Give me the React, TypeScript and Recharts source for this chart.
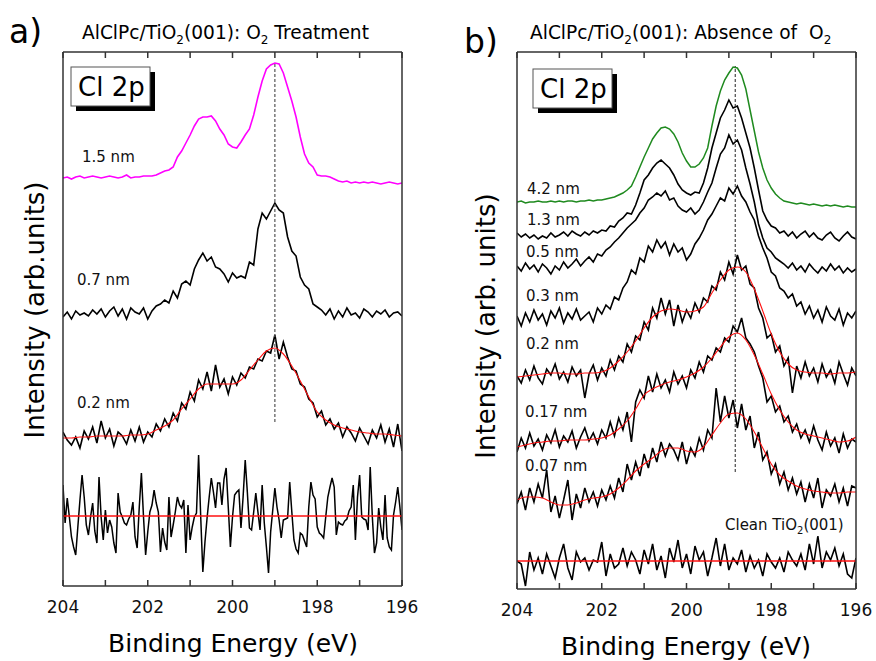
import React from "react"
import { LineChart, Line, XAxis, YAxis } from "recharts"

// binding energy grid of the measured spectra (eV)
const energy = [
  204.0, 203.9, 203.8, 203.7, 203.6, 203.5, 203.4, 203.3, 203.2, 203.1,
  203.0, 202.9, 202.8, 202.7, 202.6, 202.5, 202.4, 202.3, 202.2, 202.1,
  202.0, 201.9, 201.8, 201.7, 201.6, 201.5, 201.4, 201.3, 201.2, 201.1,
  201.0, 200.9, 200.8, 200.7, 200.6, 200.5, 200.4, 200.3, 200.2, 200.1,
  200.0, 199.9, 199.8, 199.7, 199.6, 199.5, 199.4, 199.3, 199.2, 199.1,
  199.0, 198.9, 198.8, 198.7, 198.6, 198.5, 198.4, 198.3, 198.2, 198.1,
  198.0, 197.9, 197.8, 197.7, 197.6, 197.5, 197.4, 197.3, 197.2, 197.1,
  197.0, 196.9, 196.8, 196.7, 196.6, 196.5, 196.4, 196.3, 196.2, 196.1,
  196.0,
]
// finer grid of the clean substrate scan in panel a (eV)
const energyFine = [
  204.0, 203.95, 203.9, 203.85, 203.8, 203.75, 203.7, 203.65, 203.6, 203.55,
  203.5, 203.45, 203.4, 203.35, 203.3, 203.25, 203.2, 203.15, 203.1, 203.05,
  203.0, 202.95, 202.9, 202.85, 202.8, 202.75, 202.7, 202.65, 202.6, 202.55,
  202.5, 202.45, 202.4, 202.35, 202.3, 202.25, 202.2, 202.15, 202.1, 202.05,
  202.0, 201.95, 201.9, 201.85, 201.8, 201.75, 201.7, 201.65, 201.6, 201.55,
  201.5, 201.45, 201.4, 201.35, 201.3, 201.25, 201.2, 201.15, 201.1, 201.05,
  201.0, 200.95, 200.9, 200.85, 200.8, 200.75, 200.7, 200.65, 200.6, 200.55,
  200.5, 200.45, 200.4, 200.35, 200.3, 200.25, 200.2, 200.15, 200.1, 200.05,
  200.0, 199.95, 199.9, 199.85, 199.8, 199.75, 199.7, 199.65, 199.6, 199.55,
  199.5, 199.45, 199.4, 199.35, 199.3, 199.25, 199.2, 199.15, 199.1, 199.05,
  199.0, 198.95, 198.9, 198.85, 198.8, 198.75, 198.7, 198.65, 198.6, 198.55,
  198.5, 198.45, 198.4, 198.35, 198.3, 198.25, 198.2, 198.15, 198.1, 198.05,
  198.0, 197.95, 197.9, 197.85, 197.8, 197.75, 197.7, 197.65, 197.6, 197.55,
  197.5, 197.45, 197.4, 197.35, 197.3, 197.25, 197.2, 197.15, 197.1, 197.05,
  197.0, 196.95, 196.9, 196.85, 196.8, 196.75, 196.7, 196.65, 196.6, 196.55,
  196.5, 196.45, 196.4, 196.35, 196.3, 196.25, 196.2, 196.15, 196.1, 196.05,
  196.0,
]
// grid of the fitted envelopes (eV)
const fitEnergy = [
  204.0, 203.8, 203.6, 203.4, 203.2, 203.0, 202.8, 202.6, 202.4, 202.2,
  202.0, 201.8, 201.6, 201.4, 201.2, 201.0, 200.8, 200.6, 200.4, 200.2,
  200.0, 199.8, 199.6, 199.4, 199.2, 199.0, 198.8, 198.6, 198.4, 198.2,
  198.0, 197.8, 197.6, 197.4, 197.2, 197.0, 196.8, 196.6, 196.4, 196.2,
  196.0,
]
const flatEnergy = [204.0, 196.0]
const evTicks = [196, 197, 198, 199, 200, 201, 202, 203, 204]

// ---- panel a: O2 treatment (offset intensities, arb. units) ----
const a15nm = [
  409, 410, 408, 410, 411, 409, 410, 411, 410, 409,
  410, 411, 410, 409, 410, 412, 409, 410, 410, 411,
  411, 411, 412, 414, 416, 417, 420, 430, 436, 444,
  452, 461, 468, 470, 470, 471, 466, 458, 452, 443,
  440, 439, 445, 452, 458, 472, 490, 506, 518, 522,
  524, 523, 514, 500, 486, 470, 450, 433, 424, 420,
  412, 411, 411, 410, 408, 406, 405, 406, 404, 405,
  404, 405, 404, 405, 404, 403, 404, 405, 404, 403,
  404,
]
const a07nm = [
  270, 275, 268, 276, 272, 274, 271, 277, 273, 278,
  270, 276, 280, 271, 278, 268, 279, 275, 273, 279,
  268, 276, 281, 283, 287, 284, 296, 289, 303, 306,
  302, 318, 327, 334, 326, 330, 320, 318, 313, 305,
  314, 309, 311, 309, 325, 322, 358, 374, 368, 376,
  384, 377, 374, 350, 336, 331, 310, 302, 298, 283,
  280, 277, 272, 278, 268, 276, 270, 279, 272, 274,
  269, 278, 275, 270, 276, 273, 277, 270, 274, 275,
  271,
]
const a02nm = [
  155, 147, 142, 150, 139, 156, 148, 160, 144, 166,
  149, 158, 141, 155, 151, 143, 157, 146, 160, 145,
  155, 150, 163, 156, 168, 160, 174, 166, 184, 178,
  195, 186, 207, 198, 215, 196, 222, 200, 208, 193,
  210, 202, 214, 209, 220, 218, 228, 226, 236, 234,
  252, 228, 245, 230, 218, 216, 203, 200, 188, 184,
  170, 176, 162, 168, 158, 164, 150, 160, 154, 146,
  159, 151, 143, 157, 149, 162, 145, 158, 140, 163,
  136,
]
const a02nmFit = [
  149, 149, 150, 150, 151, 151, 151, 151, 152, 152,
  153, 157, 161, 167, 178, 188, 198, 203, 203, 203,
  203, 207, 217, 227, 236, 239, 233, 221, 206, 190,
  175, 167, 162, 159, 157, 155, 154, 153, 153, 152,
  151,
]
const aClean = [
  102, 64, 89, 70, 50, 40, 32, 60, 87, 112,
  90, 62, 52, 70, 84, 56, 44, 110, 70, 47,
  77, 54, 67, 60, 44, 34, 94, 75, 70, 64,
  62, 68, 72, 85, 50, 39, 80, 114, 70, 32,
  55, 75, 82, 97, 84, 75, 35, 59, 45, 37,
  90, 50, 62, 75, 90, 82, 79, 87, 34, 82,
  47, 60, 70, 74, 132, 70, 15, 45, 69, 90,
  109, 95, 79, 104, 104, 82, 108, 119, 80, 40,
  70, 92, 95, 97, 59, 90, 127, 95, 59, 57,
  75, 94, 75, 57, 102, 64, 40, 14, 55, 77,
  99, 80, 67, 49, 67, 68, 69, 105, 75, 47,
  38, 34, 54, 52, 46, 40, 80, 105, 92, 88,
  60, 54, 52, 49, 70, 90, 100, 109, 100, 52,
  65, 63, 62, 66, 68, 76, 80, 102, 47, 90,
  112, 70, 68, 67, 57, 120, 70, 34, 44, 79,
  60, 47, 92, 49, 40, 37, 72, 85, 100, 80,
  57,
]
const aCleanFit = [71, 71]
const aPeakEnergy = [199.0, 199.0]
const aPeakSpan = [165, 524]

// ---- panel b: absence of O2 ----
const b42nm = [
  386, 387, 385, 386, 386, 387, 386, 386, 387, 386,
  387, 386, 387, 387, 386, 387, 387, 388, 387, 388,
  388, 389, 390, 391, 393, 395, 398, 402, 411, 421,
  431, 440, 449, 455, 460, 461, 459, 454, 446, 435,
  427, 421, 421, 424, 430, 440, 462, 482, 497, 508,
  515, 521, 520, 513, 499, 478, 457, 436, 420, 408,
  400, 394, 390, 387, 386, 385, 384, 385, 384, 383,
  384, 383, 382, 383, 382, 383, 382, 381, 382, 381,
  381,
]
const b13nm = [
  355, 351, 354, 350, 353, 349, 352, 350, 355, 351,
  353, 356, 352, 357, 354, 352, 356, 353, 357, 355,
  358, 357, 362, 361, 367, 370, 375, 374, 383, 395,
  408, 413, 420, 425, 428, 424, 420, 413, 404, 398,
  395, 393, 396, 395, 405, 420, 440, 455, 470, 478,
  488, 480, 482, 470, 455, 440, 420, 398, 377, 368,
  362, 360, 355, 357, 352, 356, 350, 354, 357, 351,
  355, 350, 348, 353, 356, 350, 347, 352, 356, 351,
  349,
]
const b05nm = [
  322, 317, 325, 319, 323, 316, 324, 320, 314, 322,
  318, 326, 320, 324, 329, 322, 327, 331, 326, 334,
  332, 338, 341, 346, 350, 355, 360, 364, 368, 375,
  380, 388, 391, 395, 392, 397, 388, 390, 382, 378,
  376, 380, 374, 378, 386, 396, 405, 420, 434, 440,
  453, 444, 448, 438, 420, 404, 386, 364, 350, 340,
  336, 330, 327, 324, 320, 325, 318, 322, 316, 324,
  319, 315, 321, 317, 324, 318, 322, 315, 320, 316,
  319,
]
const b03nm = [
  272, 262, 275, 266, 278, 268, 274, 263, 277, 270,
  280, 265, 275, 269, 279, 268, 272, 276, 266, 280,
  274, 283, 279, 291, 288, 300, 306, 318, 314, 330,
  326, 342, 336, 348, 340, 346, 333, 344, 336, 340,
  328, 334, 344, 350, 358, 368, 374, 382, 390, 387,
  400, 394, 402, 392, 386, 376, 368, 352, 340, 330,
  316, 312, 300, 297, 290, 294, 282, 286, 274, 282,
  270, 278, 266, 281, 272, 268, 279, 263, 275, 270,
  277,
]
const b02nm = [
  212, 205, 218, 208, 222, 210, 204, 219, 213, 224,
  209, 216, 206, 221, 212, 218, 190, 214, 223, 208,
  220, 212, 228, 218, 232, 226, 244, 236, 252, 248,
  266, 258, 280, 270, 290, 274, 288, 262, 283, 266,
  278, 270, 285, 276, 290, 286, 302, 298, 316, 308,
  326, 314, 333, 318, 322, 304, 300, 280, 270, 250,
  254, 236, 242, 222, 230, 195, 222, 210, 226, 212,
  220, 206, 224, 211, 218, 205, 226, 214, 203, 220,
  212,
]
const b02nmFit = [
  211, 212, 213, 214, 215, 215, 214, 214, 215, 215,
  216, 220, 227, 236, 247, 260, 271, 277, 279, 278,
  276, 277, 281, 295, 308, 318, 321, 316, 299, 277,
  254, 236, 224, 218, 216, 215, 215, 214, 215, 215,
  216,
]
const b017nm = [
  136, 150, 140, 155, 142, 149, 138, 153, 145, 158,
  141, 152, 146, 157, 140, 151, 160, 147, 155, 144,
  158, 150, 166, 152, 170, 158, 176, 146, 186, 198,
  190, 212, 196, 214, 200, 208, 196, 216, 204, 212,
  200, 218, 210, 226, 216, 232, 228, 240, 236, 250,
  246, 262, 256, 270, 250, 244, 236, 222, 210, 186,
  192, 176, 182, 166, 172, 156, 164, 150, 158, 146,
  162, 148, 138, 156, 142, 150, 135, 154, 140, 149,
  146,
]
const b017nmFit = [
  141, 143, 145, 146, 147, 147, 148, 148, 148, 149,
  150, 153, 159, 167, 179, 193, 199, 203, 206, 208,
  211, 215, 221, 230, 241, 251, 255, 248, 233, 214,
  194, 178, 166, 158, 154, 152, 150, 148, 146, 147,
  151,
]
const b007nm = [
  84, 96, 78, 100, 86, 104, 90, 118, 76, 92,
  70, 88, 108, 68, 94, 80, 100, 86, 96, 82,
  98, 88, 102, 90, 110, 96, 124, 108, 126, 112,
  134, 120, 140, 126, 146, 132, 144, 138, 128, 146,
  124, 140, 132, 150, 138, 158, 150, 200, 166, 192,
  170, 188, 160, 184, 158, 172, 140, 156, 128, 136,
  114, 124, 104, 116, 98, 110, 94, 106, 86, 104,
  90, 110, 80, 98, 92, 104, 86, 100, 82, 102,
  100,
]
const b007nmFit = [
  88, 91, 91, 90, 86, 83, 83, 85, 88, 90,
  91, 94, 100, 108, 117, 124, 130, 137, 140, 140,
  137, 136, 141, 153, 165, 174, 175, 169, 156, 140,
  124, 113, 107, 102, 99, 97, 96, 95, 95, 96,
  96,
]
const bClean = [
  27, 24, 2, 36, 18, 30, 14, 34, 22, 10,
  30, 44, 20, 8, 36, 26, 30, 18, 28, 26,
  46, 12, 34, 20, 24, 40, 22, 36, 28, 14,
  38, 24, 44, 18, 32, 10, 40, 26, 48, 20,
  34, 14, 42, 28, 36, 12, 30, 50, 22, 44,
  18, 30, 24, 38, 16, 32, 20, 28, 12, 34,
  26, 20, 30, 16, 36, 28, 22, 34, 18, 44,
  24, 52, 20, 36, 28, 40, 22, 34, 14, 10,
  30,
]
const bCleanFit = [27, 27]
const bPeakEnergy = [198.85, 198.85]
const bPeakSpan = [116, 522]

const FONT = "'DejaVu Sans', sans-serif"
const AXIS = "#333"

type Trace = {
  xs: number[]
  ys: number[]
  color: string
  width: number
  smooth?: boolean
  dash?: string
}

const pts = (xs: number[], ys: number[]) => xs.map((x, i) => ({ x, y: ys[i] }))

const BLACK = "#000"
const RED = "#ff1010"

const panelA: Trace[] = [
  { xs: energy, ys: a15nm, color: "#ff00ff", width: 1.6 },
  { xs: energy, ys: a07nm, color: BLACK, width: 1.6 },
  { xs: energy, ys: a02nm, color: BLACK, width: 1.6 },
  { xs: fitEnergy, ys: a02nmFit, color: RED, width: 1.1, smooth: true },
  { xs: energyFine, ys: aClean, color: BLACK, width: 1.5 },
  { xs: flatEnergy, ys: aCleanFit, color: RED, width: 1.4 },
  { xs: aPeakEnergy, ys: aPeakSpan, color: "#555", width: 1.2, dash: "3 2" },
]

const panelB: Trace[] = [
  { xs: energy, ys: b42nm, color: "#1f8a1f", width: 1.5 },
  { xs: energy, ys: b13nm, color: BLACK, width: 1.6 },
  { xs: energy, ys: b05nm, color: BLACK, width: 1.6 },
  { xs: energy, ys: b03nm, color: BLACK, width: 1.6 },
  { xs: energy, ys: b02nm, color: BLACK, width: 1.6 },
  { xs: fitEnergy, ys: b02nmFit, color: RED, width: 1.1, smooth: true },
  { xs: energy, ys: b017nm, color: BLACK, width: 1.6 },
  { xs: fitEnergy, ys: b017nmFit, color: RED, width: 1.1, smooth: true },
  { xs: energy, ys: b007nm, color: BLACK, width: 1.6 },
  { xs: fitEnergy, ys: b007nmFit, color: RED, width: 1.1, smooth: true },
  { xs: energy, ys: bClean, color: BLACK, width: 1.6 },
  { xs: flatEnergy, ys: bCleanFit, color: RED, width: 1.4 },
  { xs: bPeakEnergy, ys: bPeakSpan, color: "#222", width: 1, dash: "3 2" },
]

// inward tick mark, label only on even energies
function BottomTick(props: any) {
  const { x, y, payload } = props
  const v = payload.value as number
  return (
    <g>
      <line x1={x} x2={x} y1={y} y2={y - 6} stroke={AXIS} strokeWidth={1.5} />
      {v % 2 === 0 && (
        <text x={x} y={y + 27} textAnchor="middle" fontSize={17} fontFamily={FONT} fill="#111">
          {v}
        </text>
      )}
    </g>
  )
}

function TopTick(props: any) {
  const { x, y } = props
  return <line x1={x} x2={x} y1={y} y2={y + 6} stroke={AXIS} strokeWidth={1.5} />
}

interface PanelProps {
  left: number
  width: number
  margin: { top: number; right: number; bottom: number; left: number }
  yDomain: [number, number]
  traces: Trace[]
}

function SpectraPanel({ left, width, margin, yDomain, traces }: PanelProps) {
  return (
    <div style={{ position: "absolute", left, top: 0 }}>
      <LineChart width={width} height={661} margin={margin}>
        <XAxis
          xAxisId="bottom"
          type="number"
          dataKey="x"
          domain={[196, 204]}
          reversed
          allowDataOverflow
          ticks={evTicks}
          interval={0}
          tickLine={false}
          tickSize={0}
          tickMargin={0}
          height={30}
          stroke={AXIS}
          strokeWidth={1.5}
          tick={<BottomTick />}
        />
        <XAxis
          xAxisId="top"
          orientation="top"
          type="number"
          dataKey="x"
          domain={[196, 204]}
          reversed
          allowDataOverflow
          ticks={evTicks}
          interval={0}
          tickLine={false}
          tickSize={0}
          tickMargin={0}
          height={1}
          stroke={AXIS}
          strokeWidth={1.5}
          tick={<TopTick />}
        />
        <YAxis
          yAxisId="left"
          type="number"
          domain={yDomain}
          allowDataOverflow
          width={1}
          tick={false}
          tickLine={false}
          stroke={AXIS}
          strokeWidth={1.5}
        />
        <YAxis
          yAxisId="right"
          orientation="right"
          type="number"
          domain={yDomain}
          allowDataOverflow
          width={1}
          tick={false}
          tickLine={false}
          stroke={AXIS}
          strokeWidth={1.5}
        />
        {traces.map((t, i) => (
          <Line
            key={i}
            xAxisId="bottom"
            yAxisId="left"
            data={pts(t.xs, t.ys)}
            dataKey="y"
            type={t.smooth ? "monotone" : "linear"}
            stroke={t.color}
            strokeWidth={t.width}
            strokeDasharray={t.dash}
            dot={false}
            activeDot={false}
            isAnimationActive={false}
          />
        ))}
      </LineChart>
    </div>
  )
}

function Badge({ x, y }: { x: number; y: number }) {
  return (
    <g>
      <rect x={x + 5} y={y + 5} width={79} height={39} fill="#000" />
      <rect x={x} y={y} width={79} height={39} fill="#fff" stroke="#555" strokeWidth={1} />
      <text x={x + 7} y={y + 29} fontSize={26} fontFamily={FONT} fill="#000">Cl 2p</text>
    </g>
  )
}

function Overlay() {
  const lbl = { fontSize: 15, fontFamily: FONT, fill: "#111" }
  return (
    <svg
      width={876}
      height={661}
      style={{ position: "absolute", left: 0, top: 0, pointerEvents: "none" }}
    >
      <text x={9} y={43} fontSize={33} fontFamily={FONT} fill="#000">a)</text>
      <text x={82} y={39} fontSize={18.6} fontFamily={FONT} fill="#000">
        <tspan>AlClPc/TiO</tspan>
        <tspan dy={5} fontSize={12}>2</tspan>
        <tspan dy={-5}>(001): O</tspan>
        <tspan dy={5} fontSize={12}>2</tspan>
        <tspan dy={-5}> Treatment</tspan>
      </text>
      <text x={464} y={53} fontSize={33} fontFamily={FONT} fill="#000">b)</text>
      <text x={530} y={39} fontSize={18.6} fontFamily={FONT} fill="#000">
        <tspan>AlClPc/TiO</tspan>
        <tspan dy={5} fontSize={12}>2</tspan>
        <tspan dy={-5}>(001): Absence of</tspan>
        <tspan dx={12}>O</tspan>
        <tspan dy={5} fontSize={12}>2</tspan>
      </text>

      <Badge x={71} y={67} />
      <Badge x={533} y={69} />

      <text x={82} y={162} {...lbl}>1.5 nm</text>
      <text x={77} y={285} {...lbl}>0.7 nm</text>
      <text x={77} y={408} {...lbl}>0.2 nm</text>

      <text x={527} y={194} {...lbl}>4.2 nm</text>
      <text x={527} y={225} {...lbl}>1.3 nm</text>
      <text x={526} y={257} {...lbl}>0.5 nm</text>
      <text x={526} y={301} {...lbl}>0.3 nm</text>
      <text x={526} y={349} {...lbl}>0.2 nm</text>
      <text x={525} y={417} {...lbl}>0.17 nm</text>
      <text x={525} y={471} {...lbl}>0.07 nm</text>
      <text x={725} y={530} {...lbl}>
        <tspan>Clean TiO</tspan>
        <tspan dy={4} fontSize={10}>2</tspan>
        <tspan dy={-4}>(001)</tspan>
      </text>

      <text x={233} y={652} fontSize={25} fontFamily={FONT} fill="#000" textAnchor="middle">
        Binding Energy (eV)
      </text>
      <text x={686} y={655} fontSize={25} fontFamily={FONT} fill="#000" textAnchor="middle">
        Binding Energy (eV)
      </text>
      <text
        x={44}
        y={310}
        fontSize={26}
        fontFamily={FONT}
        fill="#000"
        textAnchor="middle"
        transform="rotate(-90 44 310)"
      >
        Intensity (arb.units)
      </text>
      <text
        x={495}
        y={326}
        fontSize={26}
        fontFamily={FONT}
        fill="#000"
        textAnchor="middle"
        transform="rotate(-90 495 326)"
      >
        Intensity (arb. units)
      </text>
    </svg>
  )
}

export default function App() {
  return (
    <div
      style={{
        position: "absolute",
        left: 0,
        top: 0,
        width: 876,
        height: 661,
        background: "#fff",
        overflow: "hidden",
      }}
    >
      <SpectraPanel
        left={0}
        width={440}
        margin={{ top: 51, right: 37, bottom: 45, left: 62 }}
        yDomain={[1, 535]}
        traces={panelA}
      />
      <SpectraPanel
        left={440}
        width={436}
        margin={{ top: 51, right: 19, bottom: 42, left: 76 }}
        yDomain={[-1, 536]}
        traces={panelB}
      />
      <Overlay />
    </div>
  )
}
